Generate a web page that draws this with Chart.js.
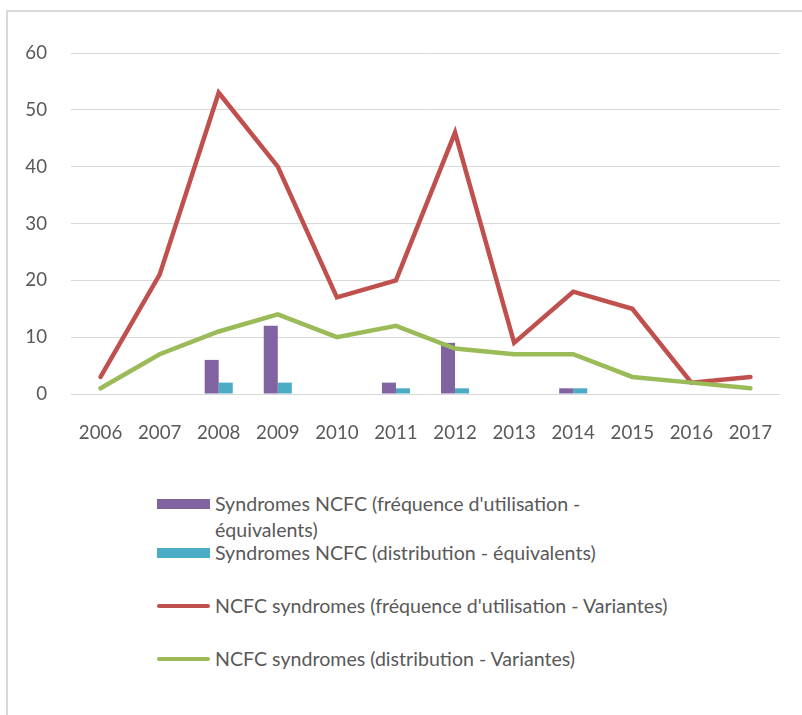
<!DOCTYPE html>
<html>
<head>
<meta charset="utf-8">
<script src="https://cdn.jsdelivr.net/npm/chart.js@4"></script>
<style>
  body { margin: 0; background: #fff; font-family: Lato, "Open Sans", sans-serif; color: #595959; overflow: hidden; }
  #frame { position: absolute; left: 6px; top: 10px; width: 796px; height: 705px; border-left: 2px solid #d9d9d9; border-top: 2px solid #d9d9d9; box-sizing: border-box; }
  #wrap { position: absolute; left: 0; top: 0; width: 802px; height: 460px; }
  .leg { position: absolute; left: 157px; font-size: 19.6px; line-height: 26px; }
  .leg .sw { position: absolute; left: 0; width: 53px; }
  .leg .tx { position: absolute; left: 58px; width: 420px; white-space: normal; }
</style>
</head>
<body>
<div id="frame"></div>
<div id="wrap"><canvas id="chart"></canvas></div>
<div id="legend"></div>
<script>
// Data
const years = ['2006', '2007', '2008', '2009', '2010', '2011', '2012', '2013', '2014', '2015', '2016', '2017'];
const freqEquiv = [null, null, 6, 12, null, 2, 9, null, 1, null, null, null];
const distEquiv = [null, null, 2, 2, null, 1, 1, null, 1, null, null, null];
const freqVariantes = [3, 21, 53, 40, 17, 20, 46, 9, 18, 15, 2, 3];
const distVariantes = [1, 7, 11, 14, 10, 12, 8, 7, 7, 3, 2, 1];
const yTicks = [0, 10, 20, 30, 40, 50, 60];

const labels = [
  "Syndromes NCFC (fréquence d'utilisation - équivalents)",
  "Syndromes NCFC (distribution - équivalents)",
  "NCFC syndromes (fréquence d'utilisation - Variantes)",
  "NCFC syndromes (distribution - Variantes)"
];
const colors = ['#8064A2', '#4BACC6', '#C0504D', '#9BBB59'];

const font = { family: 'Lato, "Open Sans", sans-serif', size: 18.7 };

const ctx = document.getElementById('chart').getContext('2d');
const chart = new Chart(ctx, {
  type: 'bar',
  data: {
    labels: years,
    datasets: [
      { label: labels[0], data: freqEquiv, backgroundColor: colors[0], order: 2, barPercentage: 1, categoryPercentage: 0.475 },
      { label: labels[1], data: distEquiv, backgroundColor: colors[1], order: 2, barPercentage: 1, categoryPercentage: 0.475 },
      { type: 'line', label: labels[2], data: freqVariantes, borderColor: colors[2], backgroundColor: colors[2], borderWidth: 4.5, pointRadius: 0, tension: 0, borderCapStyle: 'round', order: 1 },
      { type: 'line', label: labels[3], data: distVariantes, borderColor: colors[3], backgroundColor: colors[3], borderWidth: 4.5, pointRadius: 0, tension: 0, borderCapStyle: 'round', order: 0 }
    ]
  },
  options: {
    responsive: true, maintainAspectRatio: false, animation: false,
    layout: { padding: { left: 0, right: 22, top: 53, bottom: 16 } },
    scales: {
      x: {
        grid: { display: false }, border: { display: false },
        ticks: { color: '#595959', font: font, padding: 20, maxRotation: 0 },
        afterFit: s => { s.height = 50; }
      },
      y: {
        min: 0, max: 60,
        grid: { color: '#d9d9d9', lineWidth: 1, drawTicks: false }, border: { display: false },
        ticks: { stepSize: 10, color: '#595959', font: font, padding: 24,
          callback: v => yTicks.includes(v) ? v : '' },
        afterFit: s => { s.width = 71; }
      }
    },
    plugins: { legend: { display: false }, tooltip: { enabled: false } }
  }
});

// Legend in HTML, stacked like the original
const legTops = [491, 540, 593, 646];
const legend = document.getElementById('legend');
chart.data.datasets.forEach((ds, i) => {
  const item = document.createElement('div');
  item.className = 'leg';
  item.style.top = legTops[i] + 'px';
  const sw = document.createElement('div');
  sw.className = 'sw';
  if (ds.type === 'line') {
    sw.style.top = '11px'; sw.style.height = '4px'; sw.style.borderRadius = '2px';
  } else {
    sw.style.top = '8px'; sw.style.height = '10px';
  }
  sw.style.background = ds.borderColor || ds.backgroundColor;
  const tx = document.createElement('div');
  tx.className = 'tx';
  tx.style.width = i === 0 ? '385px' : '580px';
  tx.textContent = ds.label;
  item.appendChild(sw); item.appendChild(tx);
  legend.appendChild(item);
});
</script>
</body>
</html>
